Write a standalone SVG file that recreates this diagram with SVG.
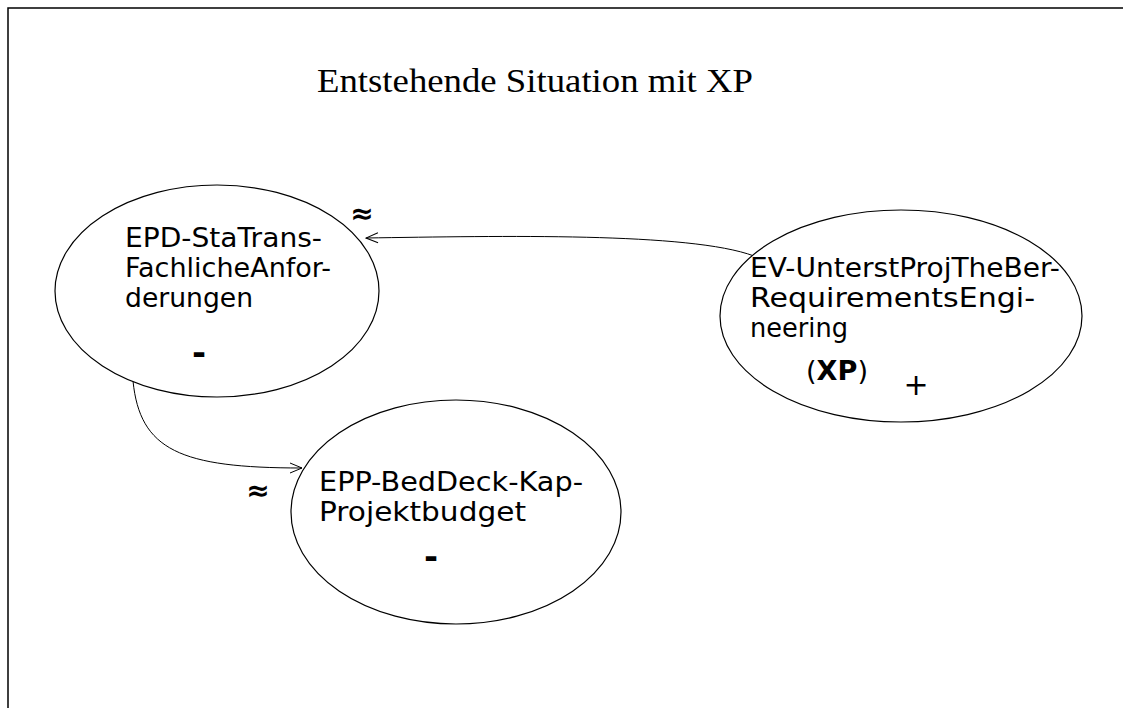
<svg xmlns="http://www.w3.org/2000/svg" width="1123" height="708" viewBox="0 0 1123 708">
<defs>
<style>
.node{fill:#fff;stroke:#000;stroke-width:1.2}
.lbl{font-family:"DejaVu Sans",Verdana,sans-serif;font-size:26px;fill:#000}
.sym{font-family:"DejaVu Sans",sans-serif;font-weight:bold;fill:#000}
.edge{fill:none;stroke:#000;stroke-width:1}
</style>
<marker id="arr" markerWidth="14" markerHeight="12" refX="13" refY="6" orient="auto" markerUnits="userSpaceOnUse">
<path d="M1,1 L13,6 L1,11" fill="none" stroke="#000" stroke-width="1"/>
</marker>
</defs>
<rect width="1123" height="708" fill="#fff"/>
<rect x="8" y="8" width="1300" height="900" fill="none" stroke="#000" stroke-width="1.5"/>
<text x="317" y="92" font-family="'Liberation Serif','Times New Roman',serif" font-size="34" textLength="436" lengthAdjust="spacingAndGlyphs">Entstehende Situation mit XP</text>
<g id="connectors">
<path class="edge" d="M754 256 C690 232 500 236 366 238" marker-end="url(#arr)"/>
<path class="edge" d="M133 381 C140 450 180 468 302 468" marker-end="url(#arr)"/>
</g>
<g id="node-epd">
<ellipse class="node" cx="217" cy="291" rx="162" ry="106"/>
<text class="lbl" x="125" y="247" textLength="197" lengthAdjust="spacingAndGlyphs">EPD-StaTrans-</text>
<text class="lbl" x="125" y="277" textLength="206" lengthAdjust="spacingAndGlyphs">FachlicheAnfor-</text>
<text class="lbl" x="125" y="307" textLength="128" lengthAdjust="spacingAndGlyphs">derungen</text>
<text class="sym" x="199" y="364" font-size="34" text-anchor="middle">-</text>
<text class="sym" x="362" y="223" font-size="28" text-anchor="middle">≈</text>
</g>
<g id="node-ev">
<ellipse class="node" cx="901" cy="316" rx="181" ry="106"/>
<text class="lbl" x="750" y="277" textLength="310" lengthAdjust="spacingAndGlyphs">EV-UnterstProjTheBer-</text>
<text class="lbl" x="750" y="307" textLength="285" lengthAdjust="spacingAndGlyphs">RequirementsEngi-</text>
<text class="lbl" x="750" y="337" textLength="98" lengthAdjust="spacingAndGlyphs">neering</text>
<text class="lbl" x="806" y="380" textLength="62" lengthAdjust="spacingAndGlyphs">(<tspan font-weight="bold">XP</tspan>)</text>
<text class="lbl" x="916" y="395" text-anchor="middle" style="font-size:30px">+</text>
</g>
<g id="node-epp">
<ellipse class="node" cx="456" cy="512" rx="165" ry="112"/>
<text class="lbl" x="319" y="491" textLength="264" lengthAdjust="spacingAndGlyphs">EPP-BedDeck-Kap-</text>
<text class="lbl" x="319" y="521" textLength="207" lengthAdjust="spacingAndGlyphs">Projektbudget</text>
<text class="sym" x="431" y="568" font-size="34" text-anchor="middle">-</text>
<text class="sym" x="258" y="500" font-size="28" text-anchor="middle">≈</text>
</g>
</svg>
